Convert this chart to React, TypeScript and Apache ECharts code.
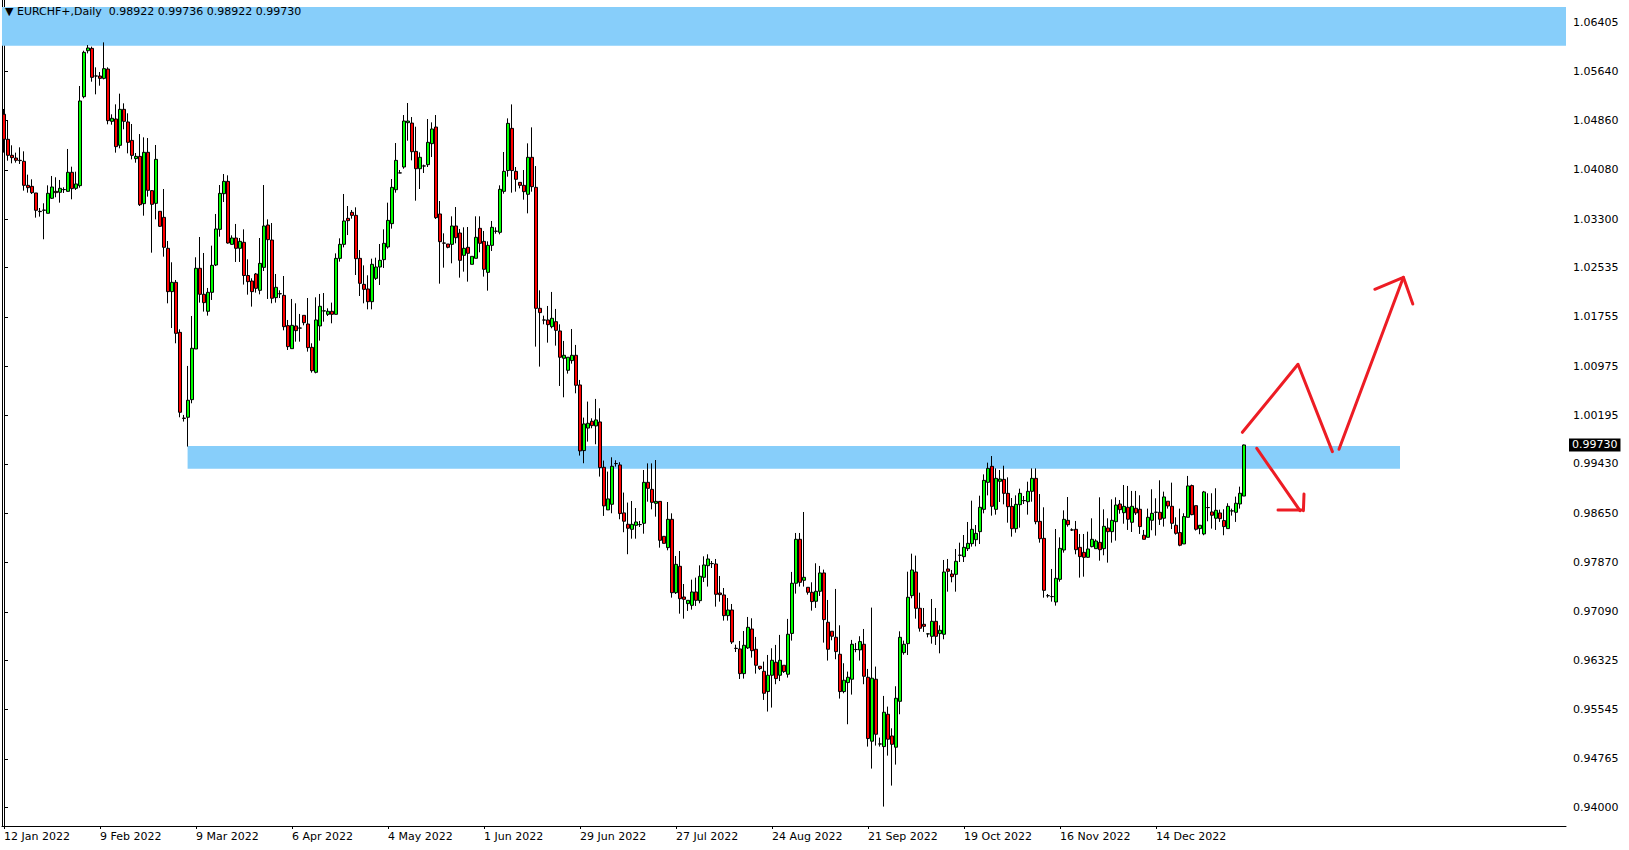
import React, { useEffect, useRef } from 'react';
import * as echarts from 'echarts';

// ---------- data ----------
const SYMBOL = 'EURCHF+,Daily';
const START_DATE = '2022-01-12';
const TOTAL_SLOTS = 391; // bars + empty right shift
const LABEL_EVERY = 24;

const OPEN = [
  1.04960,1.04564,1.04311,1.04268,1.04232,1.04216,1.03836,1.03820,1.03715,1.03425,
  1.03441,1.03394,1.03631,1.03741,1.03726,1.03768,1.03741,1.04042,1.03789,1.03831,
  1.05238,1.05965,1.06002,1.05565,1.05565,1.05528,1.05675,1.04848,1.04885,1.04469,
  1.05038,1.04838,1.04547,1.04258,1.04294,1.03546,1.04358,1.03752,1.03551,1.03425,
  1.03330,1.02840,1.02155,1.02302,1.01511,1.00155,1.00168,1.00447,1.01248,1.02524,
  1.02113,1.01844,1.02144,1.02576,1.03140,1.03704,1.03899,1.02903,1.03003,1.02840,
  1.02935,1.02410,1.02323,1.02434,1.02176,1.02539,1.03208,1.02971,1.02060,1.02123,
  1.02096,1.01617,1.01253,1.01612,1.01580,1.01780,1.01643,1.01274,1.00879,1.01612,
  1.01849,1.01796,1.01844,1.01796,1.02681,1.02903,1.03314,1.03409,1.03361,1.02681,
  1.02270,1.02197,1.01996,1.02365,1.02545,1.02661,1.02861,1.03230,1.03767,1.04031,
  1.04126,1.04827,1.04821,1.04373,1.04099,1.04141,1.04163,1.04495,1.04758,1.03383,
  1.02924,1.02908,1.02903,1.03193,1.03082,1.02729,1.02856,1.02587,1.02682,1.03156,
  1.02950,1.02460,1.02887,1.03109,1.03093,1.03741,1.04070,1.04737,1.04057,1.03883,
  1.03836,1.03694,1.04279,1.03804,1.01891,1.01707,1.01707,1.01601,1.01680,1.01533,
  1.01101,1.00911,1.01064,1.01148,1.00679,0.99641,0.99997,1.00105,1.00031,1.00094,
  0.99377,0.98703,0.98792,0.99435,0.99414,0.98656,0.98476,0.98396,0.98459,0.98470,
  0.98491,0.99139,0.99028,0.98807,0.98838,0.98285,0.98106,0.98554,0.97394,0.97811,
  0.97326,0.97221,0.97194,0.97405,0.97268,0.97637,0.97821,0.97853,0.97848,0.97389,
  0.97358,0.97031,0.97120,0.96514,0.96504,0.96114,0.96520,0.96820,0.96499,0.96230,
  0.96151,0.95830,0.96088,0.96294,0.96088,0.96246,0.96104,0.96750,0.97543,0.98238,
  0.97590,0.97479,0.97400,0.97258,0.97416,0.97706,0.96926,0.96784,0.96689,0.96420,
  0.95830,0.95972,0.96025,0.96494,0.96489,0.96578,0.96056,0.95045,0.96025,0.95002,
  0.94960,0.95471,0.95128,0.94950,0.95676,0.96446,0.96588,0.97347,0.97721,0.97147,
  0.96894,0.96741,0.96704,0.96941,0.96746,0.96736,0.97769,0.97689,0.97684,0.97985,
  0.97964,0.98090,0.98169,0.98232,0.98359,0.98712,0.99139,0.99392,0.98712,0.99155,
  0.99186,0.98965,0.98759,0.98406,0.98786,0.98849,0.98833,0.98997,0.99202,0.98522,
  0.98253,0.97347,0.97331,0.97247,0.97605,0.98069,0.98538,0.98385,0.98396,0.98111,
  0.98032,0.97953,0.98122,0.98090,0.98190,0.98090,0.98417,0.98359,0.98517,0.98796,
  0.98659,0.98744,0.98507,0.98729,0.98713,0.98302,0.98270,0.98539,0.98665,0.98665,
  0.98571,0.98840,0.98760,0.98460,0.98344,0.98165,0.98586,0.99087,0.98770,0.98407,
  0.98323,0.98739,0.98671,0.98571,0.98655,0.98534,0.98407,0.98686,0.98665,0.98797,
  0.98922,
];
const HIGH = [
  1.05043,1.04869,1.04469,1.04353,1.04437,1.04374,1.04005,1.03931,1.03715,1.03478,
  1.03552,1.03836,1.03984,1.03963,1.03921,1.03805,1.04411,1.04131,1.04052,1.05407,
  1.05965,1.06055,1.06029,1.05702,1.05628,1.06097,1.05702,1.04959,1.05117,1.05286,
  1.05133,1.04975,1.04806,1.04347,1.04647,1.04595,1.04584,1.03762,1.04474,1.03425,
  1.03778,1.02956,1.02619,1.02339,1.01559,1.00205,1.00980,1.01770,1.02698,1.03019,
  1.02766,1.02213,1.02882,1.03383,1.03841,1.04015,1.03994,1.03045,1.03225,1.03003,
  1.03140,1.02666,1.02366,1.02450,1.03003,1.03841,1.03298,1.03240,1.02434,1.02176,
  1.02402,1.01707,1.02039,1.01970,1.01802,1.01780,1.02054,1.01338,1.02065,1.02118,
  1.02133,1.01891,1.01981,1.02760,1.02998,1.03699,1.03509,1.03446,1.03488,1.02813,
  1.02570,1.02413,1.02676,1.02692,1.02908,1.03140,1.03562,1.03936,1.04505,1.04078,
  1.04948,1.05138,1.04916,1.04763,1.04358,1.04163,1.04885,1.04832,1.04948,1.03588,
  1.03077,1.02908,1.03346,1.03493,1.03146,1.03172,1.03177,1.02713,1.03346,1.03346,
  1.03114,1.02950,1.03272,1.03172,1.03836,1.04363,1.04895,1.05116,1.04126,1.03883,
  1.04078,1.04500,1.04753,1.04141,1.02176,1.01775,1.01928,1.02150,1.01881,1.01638,
  1.01375,1.01117,1.01564,1.01312,1.00758,1.00163,1.00416,1.00152,1.00458,1.00310,
  0.99483,0.99309,0.99535,0.99488,0.99457,0.98977,0.98819,0.98844,0.98733,0.98528,
  0.99334,0.99439,0.99439,0.99492,0.98838,0.98285,0.98828,0.98649,0.97974,0.98053,
  0.97531,0.97273,0.97600,0.97632,0.97826,0.97969,0.98001,0.97895,0.97927,0.97658,
  0.97468,0.97310,0.97215,0.96572,0.96630,0.96788,0.97010,0.96989,0.96694,0.96230,
  0.96304,0.96409,0.96515,0.96568,0.96726,0.96246,0.96979,0.97722,0.98338,0.98338,
  0.98670,0.97479,0.97558,0.97859,0.97817,0.97759,0.97279,0.96784,0.97453,0.96878,
  0.96278,0.96146,0.96647,0.96599,0.96705,0.96820,0.96188,0.97158,0.96225,0.95102,
  0.95761,0.95592,0.95249,0.95914,0.96783,0.96636,0.97726,0.98011,0.97980,0.97394,
  0.97152,0.96751,0.97294,0.97152,0.96878,0.97911,0.97927,0.97753,0.98085,0.98185,
  0.98306,0.98512,0.98849,0.98464,0.98928,0.99265,0.99450,0.99555,0.99360,0.99334,
  0.99402,0.99218,0.98891,0.98933,0.99039,0.98923,0.99149,0.99360,0.99360,0.98954,
  0.98744,0.97373,0.97769,0.98401,0.98269,0.98696,0.98907,0.98412,0.98528,0.98322,
  0.98322,0.98359,0.98570,0.98238,0.98902,0.98712,0.98570,0.98870,0.98902,0.98860,
  0.99097,0.99082,0.99003,0.99003,0.98934,0.98386,0.98723,0.99029,0.98887,0.99171,
  0.98992,0.98840,0.99134,0.98586,0.98723,0.98650,0.99240,0.99103,0.98770,0.98460,
  0.99003,0.98966,0.98966,0.99045,0.98707,0.98713,0.98808,0.98723,0.98913,0.99071,
  0.99736,
];
const LOW = [
  1.04353,1.04226,1.04184,1.04195,1.04174,1.03752,1.03720,1.03699,1.03325,1.03341,
  1.02983,1.03394,1.03620,1.03647,1.03562,1.03715,1.03736,1.03615,1.03763,1.03799,
  1.05212,1.05923,1.05475,1.05275,1.05412,1.05512,1.04801,1.04795,1.04353,1.04421,
  1.04722,1.04342,1.04247,1.04194,1.03509,1.03356,1.03657,1.02771,1.03298,1.03177,
  1.02708,1.01970,1.01580,1.01338,1.00168,1.00100,0.99705,1.00389,1.01248,1.01981,
  1.01839,1.01775,1.02023,1.02560,1.03024,1.03572,1.02914,1.02898,1.02624,1.02624,
  1.02266,1.02107,1.01918,1.02139,1.02112,1.02481,1.02039,1.01970,1.01981,1.02054,
  1.01543,1.01232,1.01253,1.01364,1.01364,1.01622,1.01206,1.00874,1.00863,1.01380,
  1.01680,1.01770,1.01654,1.01796,1.02629,1.02855,1.03050,1.03309,1.02418,1.02086,
  1.01970,1.01875,1.01875,1.02339,1.02260,1.02529,1.02835,1.03151,1.03720,1.04031,
  1.04099,1.04542,1.04231,1.03593,1.03778,1.04031,1.04126,1.04284,1.03304,1.02281,
  1.02534,1.02840,1.02603,1.02919,1.02376,1.02471,1.02313,1.02587,1.02682,1.02777,
  1.02392,1.02170,1.02798,1.03072,1.03061,1.03704,1.03973,1.03720,1.03736,1.03788,
  1.03609,1.03393,1.03736,1.01285,1.00969,1.01638,1.01348,1.01575,1.01301,1.00663,
  1.00484,1.00858,1.01016,1.00547,0.99562,0.99441,0.99783,0.99994,0.99741,0.99230,
  0.98608,0.98703,0.98650,0.99388,0.98555,0.98350,0.98002,0.98248,0.98248,0.98433,
  0.98327,0.98833,0.98712,0.98596,0.98106,0.98174,0.98064,0.97315,0.97373,0.97062,
  0.96983,0.97105,0.97126,0.97184,0.97226,0.97563,0.97490,0.97784,0.97173,0.97252,
  0.96952,0.96952,0.96583,0.96456,0.96029,0.96035,0.96504,0.96367,0.96114,0.96172,
  0.95698,0.95514,0.95577,0.95946,0.95996,0.96125,0.96051,0.96636,0.97379,0.97490,
  0.97490,0.97363,0.97110,0.97153,0.97342,0.96604,0.96320,0.96641,0.96341,0.95719,
  0.95803,0.95313,0.95782,0.96452,0.96320,0.95946,0.94960,0.94612,0.94976,0.94960,
  0.94011,0.94817,0.94343,0.94675,0.95471,0.96414,0.96409,0.97305,0.96983,0.96778,
  0.96773,0.96688,0.96588,0.96567,0.96435,0.96657,0.97410,0.97558,0.97410,0.97879,
  0.97879,0.98053,0.98122,0.98127,0.98164,0.98649,0.98933,0.98612,0.98628,0.98828,
  0.98791,0.98501,0.98280,0.98343,0.98422,0.98796,0.98628,0.98833,0.98475,0.98185,
  0.97315,0.97315,0.97252,0.97189,0.97568,0.98027,0.98438,0.98370,0.98001,0.97632,
  0.97647,0.97948,0.98111,0.98090,0.97900,0.97985,0.97869,0.98185,0.98217,0.98643,
  0.98485,0.98386,0.98354,0.98623,0.98323,0.98238,0.98270,0.98381,0.98296,0.98465,
  0.98439,0.98723,0.98400,0.98312,0.98128,0.98165,0.98586,0.98618,0.98376,0.98318,
  0.98302,0.98523,0.98407,0.98386,0.98513,0.98302,0.98407,0.98613,0.98513,0.98723,
  0.98922,
];
const CLOSE = [
  1.04564,1.04311,1.04274,1.04232,1.04227,1.03836,1.03799,1.03720,1.03441,1.03420,
  1.03445,1.03710,1.03810,1.03720,1.03789,1.03770,1.04042,1.03784,1.03858,1.05170,
  1.05939,1.06008,1.05544,1.05565,1.05528,1.05681,1.04859,1.04896,1.04448,1.05038,
  1.04848,1.04516,1.04310,1.04294,1.03530,1.04358,1.03757,1.03536,1.04247,1.03188,
  1.02856,1.02155,1.02302,1.01495,1.00247,1.00150,1.00437,1.01259,1.02524,1.02113,
  1.01981,1.02144,1.02571,1.03146,1.03709,1.03899,1.02924,1.03003,1.02840,1.02950,
  1.02410,1.02313,1.02155,1.02207,1.02602,1.03193,1.02977,1.02050,1.02223,1.02120,
  1.01601,1.01285,1.01622,1.01538,1.01578,1.01664,1.01269,1.00905,1.01707,1.01923,
  1.01851,1.01844,1.01796,1.02681,1.02903,1.03272,1.03277,1.03361,1.02676,1.02286,
  1.02191,1.01996,1.02587,1.02544,1.02650,1.02919,1.03282,1.03804,1.04231,1.04033,
  1.04853,1.04853,1.04368,1.04099,1.04279,1.04143,1.04516,1.04727,1.03325,1.02945,
  1.02922,1.02856,1.03193,1.03008,1.02650,1.02840,1.02761,1.02713,1.03014,1.02919,
  1.02508,1.02887,1.03172,1.03111,1.03773,1.04057,1.04816,1.04070,1.03931,1.03836,
  1.03736,1.04279,1.03815,1.01891,1.01823,1.01705,1.01633,1.01733,1.01543,1.01117,
  1.01148,1.01117,1.01148,1.00674,0.99636,1.00063,1.00073,1.00036,1.00126,0.99372,
  0.98766,0.98877,0.99393,0.99437,0.98645,0.98524,0.98413,0.98475,0.98512,0.98472,
  0.99139,0.99044,0.98823,0.98838,0.98222,0.98174,0.98554,0.97394,0.97842,0.97299,
  0.97289,0.97273,0.97405,0.97273,0.97653,0.97832,0.97927,0.97855,0.97368,0.97363,
  0.97031,0.97120,0.96614,0.96512,0.96114,0.96562,0.96846,0.96477,0.96246,0.96193,
  0.95803,0.96088,0.96325,0.96035,0.96325,0.96146,0.96736,0.97543,0.98238,0.97558,
  0.97637,0.97400,0.97253,0.97416,0.97706,0.96968,0.96499,0.96705,0.96462,0.95830,
  0.96009,0.96056,0.96578,0.96496,0.96620,0.96072,0.95087,0.96041,0.95155,0.95000,
  0.95503,0.95076,0.94996,0.95724,0.96688,0.96578,0.97321,0.97753,0.97147,0.96831,
  0.96862,0.96743,0.96941,0.96704,0.96799,0.97721,0.97732,0.97647,0.97890,0.97987,
  0.98111,0.98174,0.98396,0.98332,0.98744,0.99170,0.99360,0.98760,0.99202,0.99191,
  0.98965,0.98754,0.98406,0.98791,0.98965,0.98851,0.98997,0.99202,0.98517,0.98248,
  0.97431,0.97345,0.97333,0.97621,0.98095,0.98554,0.98470,0.98387,0.98074,0.97964,
  0.97953,0.98085,0.98238,0.98211,0.98074,0.98443,0.98359,0.98538,0.98780,0.98707,
  0.98759,0.98555,0.98760,0.98655,0.98439,0.98238,0.98586,0.98649,0.98667,0.98555,
  0.98908,0.98765,0.98491,0.98333,0.98144,0.98597,0.99082,0.98628,0.98397,0.98460,
  0.98987,0.98741,0.98618,0.98697,0.98565,0.98439,0.98760,0.98688,0.98808,0.98966,
  0.99730,
];

const Y_TICKS = [
  1.06405, 1.0564, 1.0486, 1.0408, 1.033, 1.02535, 1.01755, 1.00975, 1.00195,
  0.9943, 0.9865, 0.9787, 0.9709, 0.96325, 0.95545, 0.94765, 0.94,
];
const Y_MIN = 0.93704;
const Y_MAX = 1.06767;

// zones: [bar index from, bar index to] and [price low, price high]
const TOP_ZONE_PRICE = [1.06044, 1.06656];
const MID_ZONE_BARS = [45.9, 349.0];
const MID_ZONE_PRICE = [0.99355, 0.99714];

// hand-drawn arrows as [bar index, price]
const ARROW_ZIGZAG = [[309.6, 0.9993], [323.5, 1.01006], [332.1, 0.99624]];
const ARROW_UP_LINE = [[333.75, 0.99661], [349.85, 1.02381]];
const ARROW_UP_HEAD = [[342.7, 1.02192], [349.85, 1.02381], [352.2, 1.01959]];
const ARROW_DOWN_LINE = [[313.2, 0.99677], [324.0, 0.9869]];
const ARROW_DOWN_HEAD_H = [[318.5, 0.98701], [324.35, 0.98701]];
const ARROW_DOWN_HEAD_V = [[325.0, 0.98955], [324.85, 0.9869]];

const MONTHS = ['Jan', 'Feb', 'Mar', 'Apr', 'May', 'Jun', 'Jul', 'Aug', 'Sep', 'Oct', 'Nov', 'Dec'];

function buildDates(start: string, n: number): string[] {
  const d = new Date(start + 'T00:00:00Z');
  const out: string[] = [];
  while (out.length < n) {
    if (d.getUTCDay() !== 6) {
      out.push(`${d.getUTCDate()} ${MONTHS[d.getUTCMonth()]} ${d.getUTCFullYear()}`);
    }
    d.setUTCDate(d.getUTCDate() + 1);
  }
  return out;
}

const FONT = 'DejaVu Sans';
const FONT_SIZE = 11;
const ARROW_RED = '#ED1C24';
const GRID_RIGHT = 63;

export default function App() {
  const ref = useRef<HTMLDivElement>(null);

  useEffect(() => {
    if (!ref.current) return;
    const chart = echarts.init(ref.current, undefined, { renderer: 'svg' });
    const dates = buildDates(START_DATE, TOTAL_SLOTS);
    const nBars = OPEN.length;
    const candles = OPEN.map((o, i) => [o, CLOSE[i], LOW[i], HIGH[i]]);
    const last = nBars - 1;
    const header =
      `\u25BC ${SYMBOL}  ${OPEN[last].toFixed(5)} ${HIGH[last].toFixed(5)} ${LOW[last].toFixed(5)} ${CLOSE[last].toFixed(5)}`;

    const arrowSeries = (data: number[][], extra: any = {}) => ({
      type: 'line',
      xAxisIndex: 1,
      yAxisIndex: 0,
      data,
      symbol: 'none',
      silent: true,
      z: 5,
      lineStyle: { color: ARROW_RED, width: 3, cap: 'round', join: 'round' },
      ...extra,
    });

    const showLabel = (i: number) => i % LABEL_EVERY === 0 && i < nBars;

    chart.setOption({
      animation: false,
      backgroundColor: '#ffffff',
      title: {
        text: header,
        left: 5,
        top: 6,
        padding: 0,
        textStyle: { fontFamily: FONT, fontSize: FONT_SIZE, fontWeight: 'normal', color: '#000' },
      },
      grid: {
        left: 2,
        right: GRID_RIGHT,
        top: 0,
        bottom: 24,
        containLabel: false,
        outerBoundsMode: 'none',
      },
      xAxis: [
        {
          type: 'category',
          data: dates,
          boundaryGap: true,
          axisLine: { show: true, lineStyle: { color: '#000', width: 1 } },
          axisTick: { show: true, alignWithLabel: true, interval: (i: number) => showLabel(i), length: 3, lineStyle: { color: '#000' } },
          axisLabel: {
            interval: (i: number) => showLabel(i),
            align: 'left',
            margin: 5,
            fontFamily: FONT,
            fontSize: FONT_SIZE,
            color: '#000',
            hideOverlap: false,
          },
          splitLine: { show: false },
        },
        {
          type: 'value',
          min: -0.5,
          max: TOTAL_SLOTS - 0.5,
          show: false,
          splitLine: { show: false },
        },
      ],
      yAxis: [
        {
          type: 'value',
          position: 'right',
          min: Y_MIN,
          max: Y_MAX,
          scale: true,
          axisLine: { show: true, lineStyle: { color: '#000', width: 1 } },
          axisTick: { show: true, inside: false, length: 4, customValues: Y_TICKS, lineStyle: { color: '#000' } },
          axisLabel: {
            customValues: Y_TICKS,
            formatter: (v: number) => v.toFixed(5),
            margin: 7,
            fontFamily: FONT,
            fontSize: FONT_SIZE,
            color: '#000',
            showMinLabel: true,
            showMaxLabel: true,
          },
          splitLine: { show: false },
        },
        {
          type: 'value',
          position: 'left',
          min: Y_MIN,
          max: Y_MAX,
          axisLine: { show: true, lineStyle: { color: '#000', width: 1 } },
          axisTick: { show: false },
          axisLabel: { show: false },
          splitLine: { show: false },
        },
      ],
      series: [
        {
          type: 'candlestick',
          xAxisIndex: 0,
          yAxisIndex: 0,
          data: candles,
          barWidth: 3,
          z: 3,
          itemStyle: {
            color: '#00FF00',
            color0: '#FF0000',
            borderColor: '#000000',
            borderColor0: '#000000',
            borderColorDoji: '#000000',
            borderWidth: 1,
          },
        },
        arrowSeries(ARROW_ZIGZAG, {
          z: 5,
          markArea: {
            silent: true,
            z: 1,
            itemStyle: { color: '#87CEFA', opacity: 1 },
            data: [
              [
                { coord: [MID_ZONE_BARS[0], MID_ZONE_PRICE[1]] },
                { coord: [MID_ZONE_BARS[1], MID_ZONE_PRICE[0]] },
              ],
              [
                { coord: [-0.5, TOP_ZONE_PRICE[1]] },
                { coord: [TOTAL_SLOTS - 0.5, TOP_ZONE_PRICE[0]] },
              ],
            ],
          },
        }),
        arrowSeries(ARROW_UP_LINE),
        arrowSeries(ARROW_UP_HEAD),
        arrowSeries(ARROW_DOWN_LINE),
        arrowSeries(ARROW_DOWN_HEAD_H),
        arrowSeries(ARROW_DOWN_HEAD_V),
      ],
    });

    // current price tag on the price scale, placed via the axis scale
    const yPix = chart.convertToPixel({ yAxisIndex: 0 }, CLOSE[last]) as number;
    const axisX = chart.getWidth() - GRID_RIGHT;
    chart.setOption({
      graphic: [
        {
          type: 'text',
          x: axisX + 3,
          y: yPix,
          z: 100,
          silent: true,
          style: {
            text: CLOSE[last].toFixed(5),
            fill: '#ffffff',
            backgroundColor: '#000000',
            padding: [1, 3, 1, 3],
            font: `${FONT_SIZE}px "${FONT}"`,
            align: 'left',
            verticalAlign: 'middle',
          },
        },
      ],
    });

    return () => chart.dispose();
  }, []);

  return (
    <div
      ref={ref}
      style={{ position: 'fixed', left: 0, top: 0, width: 1629, height: 850, background: '#fff' }}
    />
  );
}
